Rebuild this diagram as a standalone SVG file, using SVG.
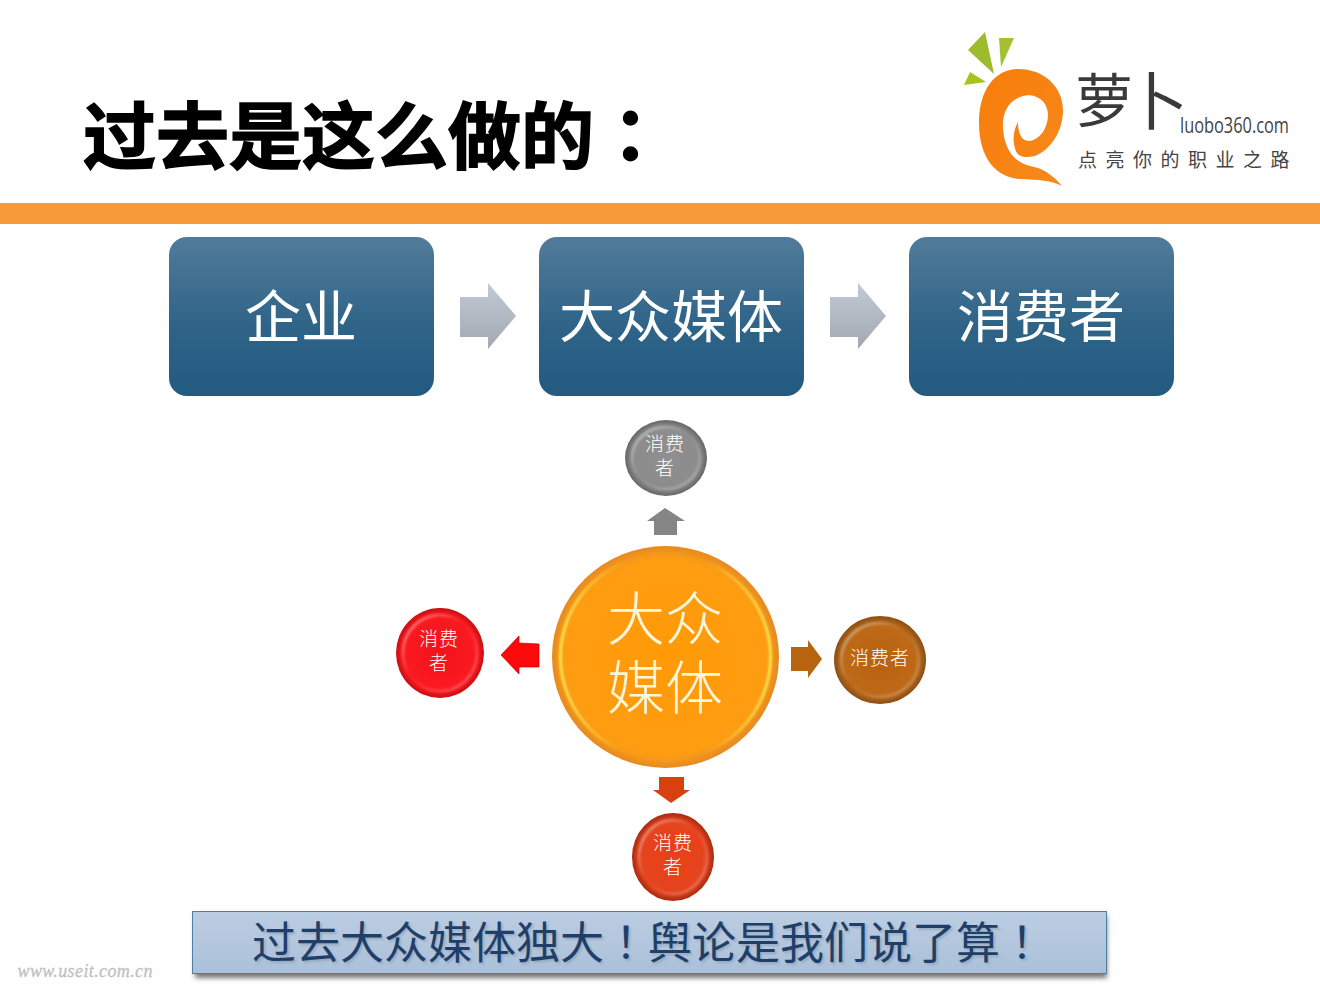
<svg xmlns="http://www.w3.org/2000/svg" width="1320" height="990" viewBox="0 0 1320 990">
<defs>
<style>
text{font-family:"Noto Sans CJK SC","Liberation Sans",sans-serif;text-anchor:middle}
.box{fill:url(#boxG)}
.bt{font-size:56px;fill:#fff}
.ga{fill:url(#arrG)}
.rim{fill:none;stroke-width:3;filter:url(#soft)}
.sm{font-size:19px;fill:#fff;font-weight:300;letter-spacing:1px}
.big{font-size:58px;fill:#fff6dc;font-weight:300}
.tc{font-family:"Noto Sans CJK TC",sans-serif}
</style>
<linearGradient id="boxG" x1="0" y1="0" x2="0" y2="1"><stop offset="0" stop-color="#527b9a"/><stop offset=".55" stop-color="#2f6488"/><stop offset="1" stop-color="#235a80"/></linearGradient>
<linearGradient id="arrG" x1="0" y1="0" x2="0" y2="1"><stop offset="0" stop-color="#c0cbd6"/><stop offset="1" stop-color="#a3a8b0"/></linearGradient>
<linearGradient id="barG" x1="0" y1="0" x2="0" y2="1"><stop offset="0" stop-color="#bccde2"/><stop offset="1" stop-color="#aac0da"/></linearGradient>
<linearGradient id="rimG" x1="0" y1="0" x2="1" y2="1"><stop offset="0" stop-color="#fff" stop-opacity=".5"/><stop offset=".45" stop-color="#fff" stop-opacity="0"/><stop offset="1" stop-color="#fff" stop-opacity=".3"/></linearGradient>
<linearGradient id="rimC" x1="0" y1="0" x2="1" y2="0"><stop offset="0" stop-color="#ffe94a" stop-opacity=".95"/><stop offset=".3" stop-color="#ffe94a" stop-opacity=".05"/><stop offset=".7" stop-color="#ffe94a" stop-opacity=".05"/><stop offset="1" stop-color="#ffe94a" stop-opacity=".95"/></linearGradient>
<radialGradient id="cG"><stop offset="0" stop-color="#ff9a06"/><stop offset=".88" stop-color="#ff9d12"/><stop offset="1" stop-color="#e68a22"/></radialGradient>
<radialGradient id="grG"><stop offset="0" stop-color="#8f8f8f"/><stop offset=".82" stop-color="#8c8c8c"/><stop offset="1" stop-color="#666"/></radialGradient>
<radialGradient id="reG"><stop offset="0" stop-color="#f5121a"/><stop offset=".85" stop-color="#fa1a20"/><stop offset="1" stop-color="#c80d12"/></radialGradient>
<radialGradient id="brG"><stop offset="0" stop-color="#b8610f"/><stop offset=".82" stop-color="#bd6a18"/><stop offset="1" stop-color="#8a4e14"/></radialGradient>
<radialGradient id="orG"><stop offset="0" stop-color="#e6401a"/><stop offset=".82" stop-color="#e5441e"/><stop offset="1" stop-color="#a92a10"/></radialGradient>
<linearGradient id="carG" x1="0" y1="0" x2="1" y2="1"><stop offset="0" stop-color="#f97c0a"/><stop offset="1" stop-color="#f58a1c"/></linearGradient>
<filter id="sh" x="-5%" y="-20%" width="110%" height="150%"><feGaussianBlur stdDeviation="2.5"/></filter>
<filter id="ts" x="-5%" y="-20%" width="110%" height="150%"><feGaussianBlur stdDeviation="1.2"/></filter>
<filter id="soft" x="-10%" y="-10%" width="120%" height="120%"><feGaussianBlur stdDeviation="1"/></filter>
</defs>
<rect width="1320" height="990" fill="#fff"/>

<g id="title"><text x="83" y="163" style="text-anchor:start;font-size:73px;font-weight:700;fill:#000;stroke:#000;stroke-width:1.5">过去是这么做的<tspan class="tc">：</tspan></text></g>
<rect id="rule" x="0" y="203" width="1320" height="21" fill="#f79a3a"/>

<g id="logo">
<polygon points="985,32 968,50 994,74" fill="#9dbb2c"/>
<polygon points="999,38 1014,38 1001,67" fill="#a3c02e"/>
<polygon points="970,72 986,82 964,85" fill="#a6c41e"/>
<path fill="url(#carG)" d="M1018,69C1045,69 1063,88 1063,110C1063,132 1050,150 1035,156C1022,159 1016,155 1015,148C1012,139 1014,129 1018,122C1018,132 1021,141 1029,141C1040,140 1048,128 1048,114C1047,99 1034,93 1023,96C1008,100 1002,114 1003,128C1004,146 1012,162 1030,166C1042,168 1052,174 1062,186C1050,180 1040,180 1020,179C998,178 979,160 979,123C979,90 995,69 1018,69Z"/>
<text x="1104" y="122" style="font-size:58px;fill:#3a3a3a;font-weight:400">萝</text>
<text x="1157" y="124" style="font-size:63px;fill:#3a3a3a;font-weight:400">卜</text>
<text x="1180" y="133" textLength="109" lengthAdjust="spacingAndGlyphs" style="text-anchor:start;font-size:22px;fill:#444;font-family:'Open Sans','Liberation Sans',sans-serif">luobo360.com</text>
<text x="1078" y="167" style="text-anchor:start;font-size:19px;fill:#444;letter-spacing:8.500px">点亮你的职业之路</text>
</g>

<g id="node-qiye"><rect class="box" x="169" y="237" width="265" height="159" rx="18"/><text class="bt" x="301" y="337">企业</text></g>
<g id="node-media"><rect class="box" x="539" y="237" width="265" height="159" rx="18"/><text class="bt" x="671" y="337">大众媒体</text></g>
<g id="node-consumer"><rect class="box" x="909" y="237" width="265" height="159" rx="18"/><text class="bt" x="1041" y="337">消费者</text></g>

<g id="connectors">
<polygon class="ga" points="460,297 488,297 488,283 516,316 488,349 488,337 460,337"/>
<polygon class="ga" points="830,297 858,297 858,283 886,316 858,349 858,337 830,337"/>
<polygon fill="#858585" points="665,508 685,521 677,521 677,535 654,535 654,521 647,521"/>
<polygon fill="#fa0a0a" stroke="#c00" stroke-width=".7" points="501,655 519,636 519,643 539,644 539,667 519,667 519,674"/>
<polygon fill="#b8640f" points="822,659 808,640 808,647 791,647 791,671 808,671 808,678"/>
<polygon fill="#d9400f" points="671,803 690,790 684,790 684,777 659,777 659,790 653,790"/>
</g>

<g id="node-center">
<ellipse cx="665.5" cy="657" rx="113.5" ry="111" fill="url(#cG)"/>
<ellipse class="rim" cx="665.5" cy="657" rx="105" ry="103" stroke="url(#rimC)"/>
<text class="big" x="665" y="640">大众</text>
<text class="big" x="665" y="709">媒体</text>
</g>
<g id="node-top">
<ellipse cx="666" cy="458" rx="41" ry="38" fill="url(#grG)"/>
<ellipse class="rim" cx="666" cy="458" rx="34" ry="31" stroke="url(#rimG)"/>
<text class="sm" x="665" y="451">消费</text><text class="sm" x="665" y="475">者</text>
</g>
<g id="node-left">
<ellipse cx="440" cy="653" rx="44" ry="45" fill="url(#reG)"/>
<ellipse class="rim" cx="440" cy="653" rx="37" ry="38" stroke="url(#rimG)"/>
<text class="sm" x="439" y="646">消费</text><text class="sm" x="439" y="670">者</text>
</g>
<g id="node-right">
<ellipse cx="880" cy="660" rx="46" ry="44" fill="url(#brG)"/>
<ellipse class="rim" cx="880" cy="660" rx="39" ry="37" stroke="url(#rimG)"/>
<text class="sm" x="880" y="665">消费者</text>
</g>
<g id="node-bottom">
<ellipse cx="673" cy="857" rx="41" ry="44" fill="url(#orG)"/>
<ellipse class="rim" cx="673" cy="857" rx="34" ry="37" stroke="url(#rimG)"/>
<text class="sm" x="673" y="850">消费</text><text class="sm" x="673" y="874">者</text>
</g>

<g id="banner">
<rect x="195" y="915" width="912" height="63" fill="#777" filter="url(#sh)"/>
<rect x="192.500" y="911.500" width="914" height="62" fill="url(#barG)" stroke="#4f7ea3" stroke-width="1"/>
<text x="650" y="961" style="font-size:44px;fill:#8fa0b5;opacity:.7" filter="url(#ts)">过去大众媒体独大<tspan class="tc">！</tspan>舆论是我们说了算<tspan class="tc">！</tspan></text>
<text x="648" y="959" style="font-size:44px;fill:#1f3f68">过去大众媒体独大<tspan class="tc">！</tspan>舆论是我们说了算<tspan class="tc">！</tspan></text>
</g>
<text id="watermark" x="85" y="977" textLength="135" style="font-family:'Liberation Serif',serif;font-style:italic;font-size:18px;fill:#c4c4c4;stroke:#bbb;stroke-width:.3">www.useit.com.cn</text>
</svg>
